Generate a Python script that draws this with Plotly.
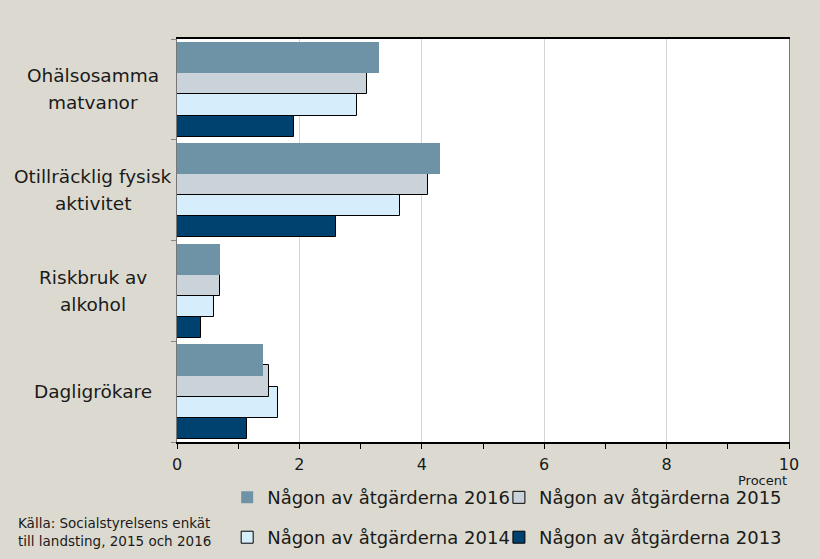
import plotly.graph_objects as go

categories = ["Ohälsosamma<br>matvanor", "Otillräcklig fysisk<br>aktivitet", "Riskbruk av<br>alkohol", "Dagligrökare"]
series_names = ["Någon av åtgärderna 2013", "Någon av åtgärderna 2014", "Någon av åtgärderna 2015", "Någon av åtgärderna 2016"]
values_2013 = [1.91, 2.60, 0.40, 1.15]
values_2014 = [2.94, 3.64, 0.60, 1.65]
values_2015 = [3.10, 4.10, 0.71, 1.51]
values_2016 = [3.30, 4.30, 0.70, 1.40]
x_ticks = [0, 2, 4, 6, 8, 10]
source_lines = ["Källa: Socialstyrelsens enkät", "till landsting, 2015 och 2016"]

FONT = "DejaVu Sans"
TXT = "#1a1a1a"
BG = "#DCDAD0"
colors = ["#00426F", "#D6EDFB", "#CAD3D9", "#6F93A6"]
line_w = [1, 1, 1, 0]
offsets = [0.16, -0.05, -0.26, -0.47]
legend_ids = ["legend4", "legend3", "legend2", "legend"]
# legend positions (paper coords): 2016 top-left, 2015 top-right, 2014 bottom-left, 2013 bottom-right
legend_pos = {"legend": (0.082, -0.138), "legend2": (0.526, -0.138),
              "legend3": (0.082, -0.237), "legend4": (0.526, -0.237)}
all_vals = [values_2013, values_2014, values_2015, values_2016]

fig = go.Figure()
for name, vals, col, lw, off, lg in zip(series_names, all_vals, colors, line_w, offsets, legend_ids):
    fig.add_trace(go.Bar(
        y=list(range(len(categories))), x=vals, orientation="h", name=name,
        marker=dict(color=col, line=dict(color="black", width=lw)),
        width=0.31, offset=off, legend=lg, showlegend=True,
    ))

annotations = []
for i, c in enumerate(categories):
    lines = c.split("<br>")
    n = len(lines)
    for j, ln in enumerate(lines):
        shift = ((n - 1) / 2 - j) * 27
        annotations.append(dict(text=ln, x=-0.137, xref="paper", y=i, yref="y", yshift=shift,
                                showarrow=False, align="center", xanchor="center", yanchor="middle",
                                font=dict(family=FONT, size=18.5, color=TXT)))
annotations.append(dict(text="Procent", x=1.0, xref="paper", y=-0.095, yref="paper",
                        showarrow=False, xanchor="right", yanchor="middle",
                        font=dict(family=FONT, size=13, color=TXT)))
for j, ln in enumerate(source_lines):
    annotations.append(dict(text=ln, x=-0.263, xref="paper", y=-0.200 - j * 0.045, yref="paper",
                            showarrow=False, xanchor="left", yanchor="middle", align="left",
                            font=dict(family=FONT, size=13.5, color=TXT)))

leg_common = dict(orientation="h", bgcolor="rgba(0,0,0,0)",
                  font=dict(family=FONT, size=18, color=TXT),
                  xanchor="left", yanchor="middle")
legend_layout = {k: dict(x=v[0], y=v[1], **leg_common) for k, v in legend_pos.items()}

fig.update_layout(
    width=820, height=559,
    paper_bgcolor=BG, plot_bgcolor="white",
    margin=dict(l=177, r=31, t=39, b=117, autoexpand=False),
    showlegend=True,
    barmode="overlay",
    bargap=0,
    annotations=annotations,
    **legend_layout,
    xaxis=dict(range=[0, 10], tickvals=x_ticks, ticktext=[str(v) for v in x_ticks],
               showgrid=True, gridcolor="#D4D4D4", gridwidth=1,
               showline=True, linecolor="black", linewidth=1.5, mirror=True,
               ticks="outside", ticklen=5, tickcolor="black", ticklabelstandoff=2,
               minor=dict(dtick=1, ticks="outside", ticklen=5, tickcolor="black", showgrid=False),
               tickfont=dict(family=FONT, size=16, color=TXT), zeroline=False),
    yaxis=dict(range=[3.5, -0.5], tickvals=[-0.5, 0.5, 1.5, 2.5, 3.5], showticklabels=False,
               showgrid=False, showline=True, linecolor="#777777", linewidth=1, mirror=True,
               ticks="outside", ticklen=5, tickcolor="#888888", zeroline=False),
)

fig.write_html("out.html", config={"displayModeBar": False},
               post_script="document.body.style.margin='0';document.body.style.background='%s';" % BG)
